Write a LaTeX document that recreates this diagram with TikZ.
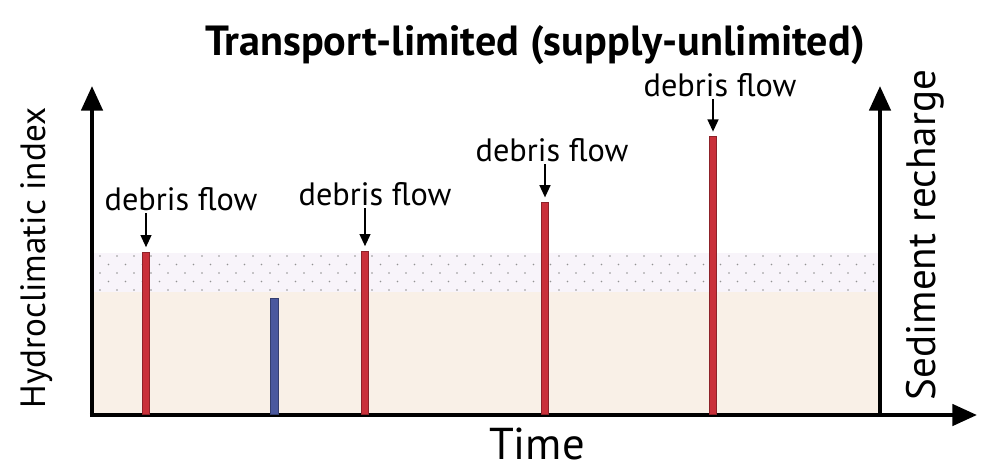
\documentclass[tikz,border=0pt]{standalone}
\usepackage{fontspec}
\setmainfont{PT Sans}
\usepackage{xcolor}
\usetikzlibrary{arrows.meta}

\definecolor{sandfill}{HTML}{F9F0E7}
\definecolor{bandfill}{HTML}{F8F4FA}
\definecolor{flowred}{HTML}{C9303A}
\definecolor{floodblue}{HTML}{4A589E}

\begin{document}
\begin{tikzpicture}[x=0.02cm, y=-0.02cm,
    axisline/.style={line width=2.4pt, -{Triangle[length=14pt, width=12pt]}},
    eventbar/.style={draw=#1!70!black, fill=#1, line width=0.5pt, anchor=south,
      minimum width=4.4pt, inner sep=0pt},
    flowlabel/.style={font=\fontsize{18.4}{21}\selectfont, anchor=south, inner sep=1pt},
    pointer/.style={line width=1.4pt, -{Triangle[length=7pt, width=6pt]}}]
  \useasboundingbox (0,0) rectangle (1001,474);
  % background of the plot
  \fill[sandfill] (92,292) rectangle (880,415);
  \fill[bandfill] (92,253) rectangle (880,292);
  \begin{scope}
    \clip (94,253) rectangle (878,292);
    \foreach \row in {0,...,4}{
      \pgfmathsetmacro{\yy}{256+8.5*\row}
      \pgfmathsetmacro{\shift}{mod(\row,2)*8.5}
      \foreach \col in {0,...,46}{
        \fill[gray!85] ({100+\shift+17*\col},\yy) circle (0.8);
      }
    }
  \end{scope}
  % axes
  \coordinate (origin) at (92,415);
  \coordinate (ytop) at (92,86);
  \coordinate (xend) at (977,415);
  \coordinate (rbase) at (880,415);
  \coordinate (rtop) at (880,86);
  \draw[axisline] (origin) -- (ytop);
  \draw[axisline] ([xshift=-1.2pt]origin) -- (xend);
  \draw[axisline] (rbase) -- (rtop);
  % events
  \node[eventbar=flowred, minimum height=163*0.567pt] (bar1) at (146,415) {};
  \node[eventbar=floodblue, minimum height=117*0.567pt] (bar2) at (274.5,415) {};
  \node[eventbar=flowred, minimum height=164*0.567pt] (bar3) at (365,415) {};
  \node[eventbar=flowred, minimum height=213*0.567pt] (bar4) at (545,415) {};
  \node[eventbar=flowred, minimum height=279*0.567pt] (bar5) at (713,415) {};
  \node[flowlabel] (lab1) at (181,213) {debris flow};
  \node[flowlabel] (lab3) at (375,208) {debris flow};
  \node[flowlabel] (lab4) at (552,164) {debris flow};
  \node[flowlabel] (lab5) at (720,99) {debris flow};
  \draw[pointer] (lab1.south -| bar1.north) -- ([yshift=2.5pt]bar1.north);
  \draw[pointer] (lab3.south -| bar3.north) -- ([yshift=2.5pt]bar3.north);
  \draw[pointer] (lab4.south -| bar4.north) -- ([yshift=2.5pt]bar4.north);
  \draw[pointer] (lab5.south -| bar5.north) -- ([yshift=2.5pt]bar5.north);
  % texts
  \node[font=\bfseries\fontsize{24}{28}\selectfont] (title) at (535,45) {Transport-limited (supply-unlimited)};
  \node[font=\fontsize{25.4}{29}\selectfont] (xlab) at (537,444) {Time};
  \node[font=\fontsize{20}{24}\selectfont, rotate=90] (ylab) at (37,258) {Hydroclimatic index};
  \node[font=\fontsize{23.4}{27}\selectfont, rotate=90] (rlab) at (925,235) {Sediment recharge};
\end{tikzpicture}
\end{document}
